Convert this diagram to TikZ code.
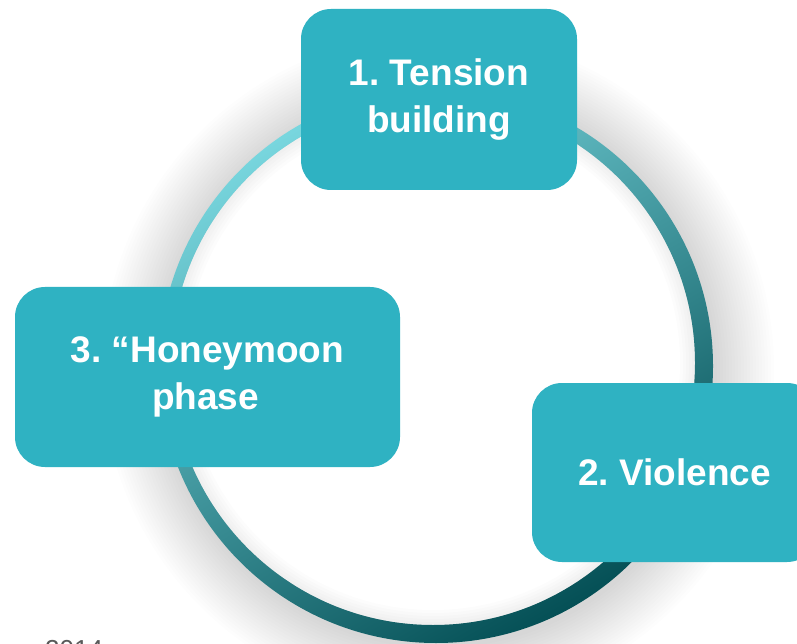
\documentclass[tikz,border=0pt]{standalone}
\usepackage{fontspec}
\setmainfont{Liberation Sans}
\frenchspacing
\definecolor{boxteal}{RGB}{47,178,194}
\definecolor{ringlight}{RGB}{120,214,222}
\definecolor{ringmid}{RGB}{24,160,172}
\definecolor{ringdark}{RGB}{5,80,86}
\begin{document}
\begin{tikzpicture}[x=1pt,y=1pt,
  phase/.style={rectangle, rounded corners=30pt, fill=boxteal, text=white,
    font=\fontsize{37}{47}\selectfont\bfseries, align=center, inner sep=0pt},
  glow/.style={black, opacity=0.009},
  innerglow/.style={even odd rule, black, opacity=0.012}]
\useasboundingbox (0,0) rectangle (797,643);
\clip (0,0) rectangle (797,643);
\fill[white] (0,0) rectangle (797,643);
% soft shadow around the ring
\foreach \r in {279,282,...,336} \fill[glow] (438pt,274pt) circle (\r pt);
\fill[white] (433pt,280pt) circle (262pt);
\foreach \r in {247,250,...,259} \fill[innerglow] (433pt,280pt) circle (262pt) (433pt,280pt) circle (\r pt);
% ring
\shade[even odd rule, top color=ringlight, middle color=ringmid, bottom color=ringdark, shading angle=30]
  (436pt,277pt) circle (277pt) (433pt,280pt) circle (262pt);
% phases
\node[phase, minimum width=276pt, minimum height=181pt] (b1) at (439,543.5) {1. Tension\\building};
\node[phase, minimum width=385pt, minimum height=180pt] (b3) at (207.5,266) {3. “Honeymoon\\phase\hspace*{4pt}};
\node[phase, minimum width=285pt, minimum height=179pt] (b2) at (674.5,170.5) {2. Violence};
\node[anchor=north west, text=black!65, font=\fontsize{26}{30}\selectfont, inner sep=0pt] (yr) at (45,3) {2014};
\end{tikzpicture}
\end{document}
